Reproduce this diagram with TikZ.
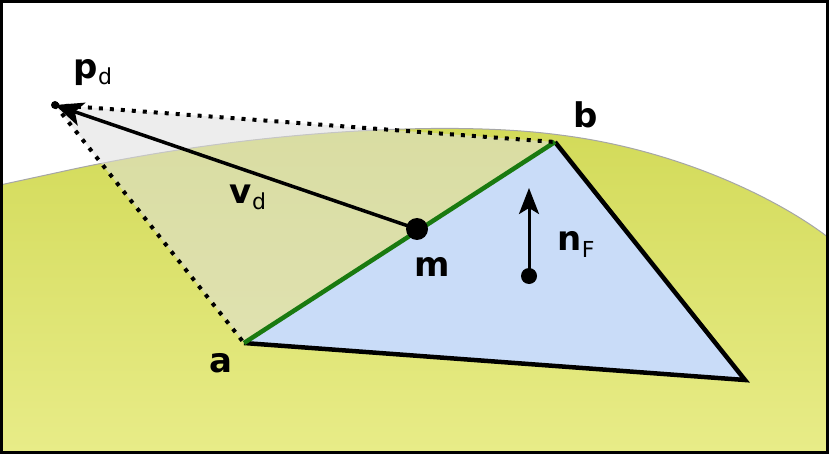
\documentclass[tikz,border=0pt]{standalone}
\usepackage{fontspec}
\setmainfont{DejaVu Sans}
\usetikzlibrary{arrows.meta}
\definecolor{blu}{HTML}{C9DCF8}
\definecolor{grn}{HTML}{1A7A10}
\definecolor{yel1}{HTML}{D2DA58}
\definecolor{yel2}{HTML}{E8EC88}
\tikzset{lbl/.style={font=\fontsize{34}{36}\selectfont\bfseries},
 dotl/.style={line width=4pt,dash pattern=on 4pt off 7pt}}
\newcommand{\subt}[1]{\raisebox{-6pt}{\textmd{\fontsize{22}{24}\selectfont #1}}}
\begin{document}
\begin{tikzpicture}[x=1pt,y=-1pt]
\useasboundingbox (0,0) rectangle (829,454);
\fill[white] (0,0) rectangle (829,454);
\shade[top color=yel1,bottom color=yel2] (0,185) -- (60,172) .. controls (250,130) and (450,120) .. (560,135) .. controls (680,150) and (780,200) .. (829,238) -- (829,454) -- (0,454) -- cycle;
\draw[gray!70,line width=1pt] (0,185) -- (60,172) .. controls (250,130) and (450,120) .. (560,135) .. controls (680,150) and (780,200) .. (829,238);
\coordinate (pd) at (55,105);
\coordinate (b) at (555,142);
\coordinate (a) at (244,343);
\coordinate (c) at (745,380);
\coordinate (m) at (417,229);
\coordinate (n0) at (529,276);
\coordinate (n1) at (529,188);
\fill[gray!25,opacity=0.55] (pd) -- (b) -- (a) -- cycle;
\fill[blu] (a) -- (b) -- (c) -- cycle;
\draw[line width=4.5pt,line join=miter] (b) -- (c) -- (a);
\draw[grn,line width=4.5pt] (a) -- (b);
\draw[dotl] (pd) -- (b);
\draw[dotl] (pd) -- (a);
\fill (pd) circle (4);
\draw[line width=3.5pt,-{Stealth[length=28pt,width=24pt,inset=7pt]}] (m) -- (pd);
\fill (m) circle (11);
\fill (n0) circle (8);
\draw[line width=3pt,-{Stealth[length=26pt,width=20pt,inset=6pt]}] (n0) -- (n1);
\node[lbl,anchor=base] (lp) at (93,79) {p\subt{d}};
\node[lbl,anchor=base] (lb) at (586,128) {b};
\node[lbl,anchor=base] (lv) at (248,204) {v\subt{d}};
\node[lbl,anchor=base] (lm) at (432,276) {m};
\node[lbl,anchor=base] (ln) at (576,251) {n\subt{F}};
\node[lbl,anchor=base] (la) at (221,372) {a};
\draw[line width=3pt] (1.5,1.5) rectangle (827.5,452.5);
\end{tikzpicture}
\end{document}
